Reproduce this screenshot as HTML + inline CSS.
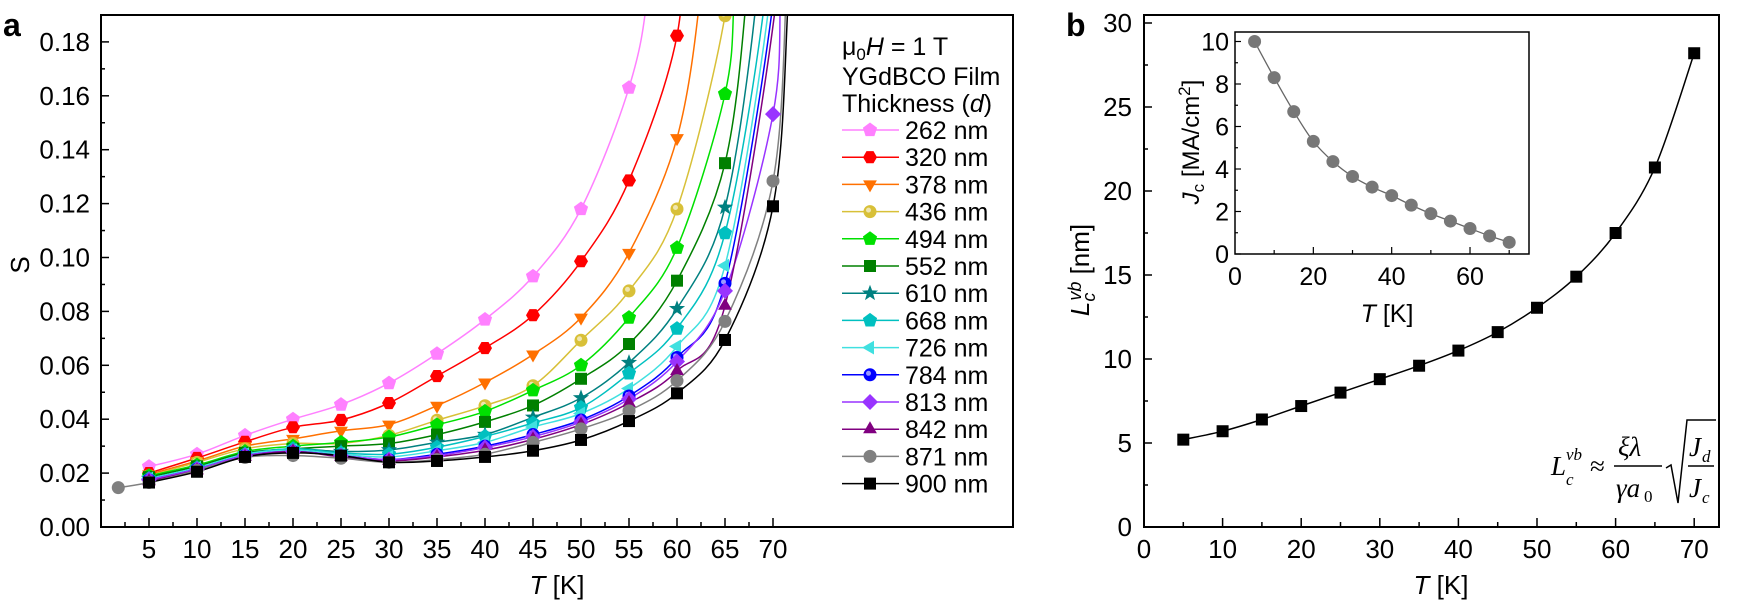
<!DOCTYPE html>
<html><head><meta charset="utf-8"><style>
html,body{margin:0;padding:0;background:#fff;}
svg{display:block;font-family:"Liberation Sans",Arial,sans-serif;}
</style></head><body>
<svg id="s" width="1738" height="603" xmlns="http://www.w3.org/2000/svg"></svg>
<script>
const S=document.getElementById('s');let h='';
function cr(pts){
 let d='M'+pts[0][0].toFixed(1)+','+pts[0][1].toFixed(1);
 for(let i=0;i<pts.length-1;i++){const p0=pts[i-1]||pts[i],p1=pts[i],p2=pts[i+1],p3=pts[i+2]||p2;
  const c1=[p1[0]+(p2[0]-p0[0])/6,p1[1]+(p2[1]-p0[1])/6],c2=[p2[0]-(p3[0]-p1[0])/6,p2[1]-(p3[1]-p1[1])/6];
  d+='C'+c1[0].toFixed(1)+','+c1[1].toFixed(1)+' '+c2[0].toFixed(1)+','+c2[1].toFixed(1)+' '+p2[0].toFixed(1)+','+p2[1].toFixed(1);}
 return d;}
function poly(n,r,x,y,rot){let p=[];for(let i=0;i<n;i++){const a=rot+i*2*Math.PI/n;p.push((x+r*Math.cos(a)).toFixed(1)+','+(y+r*Math.sin(a)).toFixed(1));}return p.join(' ');}
function mk(t,x,y,c){const r=7;
 switch(t){
 case 'pent':return `<polygon points="${poly(5,r+0.5,x,y,-Math.PI/2)}" fill="${c}"/>`;
 case 'hex':return `<polygon points="${poly(6,r,x,y,0)}" fill="${c}"/>`;
 case 'dtri':return `<polygon points="${poly(3,r+1,x,y,Math.PI/2)}" fill="${c}"/>`;
 case 'utri':return `<polygon points="${poly(3,r+1,x,y,-Math.PI/2)}" fill="${c}"/>`;
 case 'ltri':return `<polygon points="${poly(3,r+1,x,y,Math.PI)}" fill="${c}"/>`;
 case 'sq':return `<rect x="${x-6}" y="${y-6}" width="12" height="12" fill="${c}"/>`;
 case 'dia':return `<polygon points="${poly(4,r+1,x,y,0)}" fill="${c}"/>`;
 case 'circ':return `<circle cx="${x}" cy="${y}" r="${r-0.5}" fill="${c}"/>`;
 case 'sph':return `<circle cx="${x}" cy="${y}" r="${r-0.5}" fill="${c}"/><circle cx="${x-1.5}" cy="${y-1.5}" r="2.5" fill="#fff" opacity="0.6"/>`;
 case 'star':{let p=[];for(let i=0;i<10;i++){const a=-Math.PI/2+i*Math.PI/5,rr=i%2?3.5:8.5;p.push((x+rr*Math.cos(a)).toFixed(1)+','+(y+rr*Math.sin(a)).toFixed(1));}return `<polygon points="${p.join(' ')}" fill="${c}"/>`;}
 }}
const ax=T=>101+T*9.6, ay=v=>527-v/0.02*53.9;
const Ts=[5,10,15,20,25,30,35,40,45,50,55,60,65,70];
const ser=[
['262 nm','#ff80ff','pent',[.0224,.027,.034,.040,.0454,.0534,.0643,.077,.093,.118,.163],[[57,.2],[58,.26]]],
['320 nm','#ff0000','hex',[.020,.0256,.0316,.037,.0397,.046,.056,.0664,.0786,.0986,.1286,.1823],[[61,.24]]],
['378 nm','#ff7000','dtri',[.0195,.0245,.030,.0327,.0357,.038,.045,.0536,.064,.0777,.1017,.1443],[[62.5,.2],[63.5,.26]]],
['436 nm','#d8c038','sph',[.019,.024,.029,.031,.031,.034,.0396,.045,.0524,.0693,.0876,.118,.1897],[[66,.24]]],
['494 nm','#00e000','pent',[.019,.023,.028,.030,.0314,.0334,.0379,.0429,.0507,.06,.0777,.1036,.1607],[[66,.2],[66.8,.26]]],
['552 nm','#008000','sq',[.0185,.0225,.0275,.029,.030,.031,.0343,.039,.0451,.055,.0679,.0914,.135],[[67.3,.2],[68,.26]]],
['610 nm','#008080','star',[.018,.022,.027,.029,.028,.0286,.0314,.0343,.0407,.0479,.061,.081,.1186],[[68.4,.2],[69,.26]]],
['668 nm','#00c0c0','pent',[.018,.022,.027,.029,.0275,.027,.0296,.0336,.0386,.0443,.057,.0736,.109],[[69.3,.2],[69.9,.26]]],
['726 nm','#40e0e0','ltri',[.018,.022,.027,.0285,.027,.026,.0283,.0314,.0371,.0421,.0514,.067,.097],[[69.8,.2],[70.4,.26]]],
['784 nm','#0000ff','sph',[.0175,.0215,.0265,.028,.0265,.025,.027,.030,.0343,.0397,.0486,.0629,.0904],[[70.2,.2],[70.8,.26]]],
['813 nm','#9933ff','dia',[.0175,.0215,.0265,.028,.0265,.025,.0265,.0295,.0335,.039,.0475,.0614,.0876,.1532],[[70.8,.2],[71.3,.26]]],
['842 nm','#800080','utri',[.017,.021,.026,.028,.026,.0245,.026,.0285,.0325,.038,.046,.0579,.0821],[[70.5,.2],[71,.26]]],
['871 nm','#808080','circ',[.0165,.021,.0258,.0265,.0255,.024,.025,.027,.0314,.0364,.0431,.0543,.0763,.1284],[[71.4,.2],[71.8,.26]]],
['900 nm','#000000','sq',[.0165,.0205,.026,.0275,.0265,.024,.0245,.026,.0283,.0323,.0393,.0496,.0694,.119],[[71.5,.19],[71.9,.26]]]
];
h+=`<defs><clipPath id="ca"><rect x="101" y="15" width="912" height="512"/></clipPath></defs>`;
let lines='',marks='';
ser.forEach((s,i)=>{let pts=s[3].map((v,j)=>[ax(Ts[j]),ay(v)]);
 if(s[0]=='871 nm')pts.unshift([ax(1.8),ay(.0146)]);
 s[4].forEach(p=>pts.push([ax(p[0]),ay(p[1])]));
 lines+=`<path d="${cr(pts)}" fill="none" stroke="${s[1]}" stroke-width="1.5"/>`;
 let mp=s[3].map((v,j)=>[ax(Ts[j]),ay(v)]);if(s[0]=='871 nm')mp.unshift([ax(1.8),ay(.0146)]);
 mp.forEach(p=>{if(p[1]>15)marks+=mk(s[2],p[0],p[1],s[1]);});
 const ly=130+i*27.2;
 h+=`<line x1="842" y1="${ly}" x2="899" y2="${ly}" stroke="${s[1]}" stroke-width="1.5"/>`+mk(s[2],870,ly,s[1])+`<text x="905" y="${ly+9}" font-size="25">${s[0]}</text>`;
});
h+=`<g clip-path="url(#ca)">${lines}${marks}</g>`;
h+=`<rect x="101" y="15" width="912" height="512" fill="none" stroke="#000" stroke-width="2"/>`;
for(let v=0;v<=0.19;v+=0.01){const y=ay(v),maj=Math.round(v*100)%2==0;h+=`<line x1="101" y1="${y}" x2="${maj?109:105}" y2="${y}" stroke="#000" stroke-width="1.5"/>`;
 if(maj&&v<0.185)h+=`<text x="90" y="${y+9}" font-size="26" text-anchor="end">${v.toFixed(2)}</text>`;}
for(let T=2.5;T<=70;T+=2.5){const x=ax(T),maj=T%5==0;h+=`<line x1="${x}" y1="527" x2="${x}" y2="${maj?518:522}" stroke="#000" stroke-width="1.5"/>`;
 if(maj)h+=`<text x="${x}" y="558" font-size="26" text-anchor="middle">${T}</text>`;}
h+=`<text x="3" y="36" font-size="32" font-weight="bold">a</text>`;
h+=`<text transform="translate(29,265) rotate(-90)" font-size="26" text-anchor="middle">S</text>`;
h+=`<text x="557" y="594" font-size="26" text-anchor="middle"><tspan font-style="italic">T</tspan> [K]</text>`;
h+=`<text x="842" y="55" font-size="25">μ<tspan font-size="17" dy="5">0</tspan><tspan dy="-5" font-style="italic">H</tspan> = 1 T</text>`;
h+=`<text x="842" y="85" font-size="25">YGdBCO Film</text>`;
h+=`<text x="842" y="112" font-size="25">Thickness (<tspan font-style="italic">d</tspan>)</text>`;
const bx=T=>1144+T*7.86, by=v=>527-v/5*84;
const L=[5.2,5.7,6.4,7.2,8.0,8.8,9.6,10.5,11.6,13.05,14.9,17.5,21.4,28.2];
let bp=Ts.map((T,j)=>[bx(T),by(L[j])]);
h+=`<path d="${cr(bp)}" fill="none" stroke="#000" stroke-width="1.5"/>`;
bp.forEach(p=>h+=mk('sq',p[0],p[1],'#000'));
h+=`<rect x="1144" y="15" width="575" height="512" fill="none" stroke="#000" stroke-width="2"/>`;
for(let v=0;v<=30;v+=2.5){const y=by(v),maj=v%5==0;h+=`<line x1="1144" y1="${y}" x2="${maj?1152:1148}" y2="${y}" stroke="#000" stroke-width="1.5"/>`;
 if(maj)h+=`<text x="1132" y="${y+9}" font-size="26" text-anchor="end">${v}</text>`;}
for(let T=5;T<=70;T+=5){const x=bx(T),maj=T%10==0;h+=`<line x1="${x}" y1="527" x2="${x}" y2="${maj?518:522}" stroke="#000" stroke-width="1.5"/>`;}
for(let T=0;T<=70;T+=10)h+=`<text x="${bx(T)}" y="558" font-size="26" text-anchor="middle">${T}</text>`;
h+=`<text x="1066" y="36" font-size="32" font-weight="bold">b</text>`;
h+=`<text transform="translate(1089,270) rotate(-90)" font-size="26" text-anchor="middle"><tspan font-style="italic">L</tspan><tspan font-size="18" dy="6" font-style="italic">c</tspan><tspan font-size="18" dy="-14" dx="-8" font-style="italic">vb</tspan><tspan dy="8"> [nm]</tspan></text>`;
h+=`<text x="1441" y="594" font-size="26" text-anchor="middle"><tspan font-style="italic">T</tspan> [K]</text>`;
h+=`<g font-family="'Liberation Serif',serif" font-style="italic" font-size="27">
<text x="1551" y="475">L</text><text x="1566" y="485" font-size="17">c</text><text x="1566" y="460" font-size="17">vb</text>
<text x="1590" y="475" font-style="normal">≈</text>
<text x="1618" y="456">ξλ</text><line x1="1614" y1="466" x2="1662" y2="466" stroke="#000" stroke-width="1.5"/>
<text x="1616" y="497">γa</text><text x="1644" y="502" font-size="17" font-style="normal">0</text>
<polyline points="1666,468 1671,465 1678,503 1687,420 1716,420" fill="none" stroke="#000" stroke-width="1.5"/>
<text x="1689" y="456">J</text><text x="1702" y="462" font-size="17">d</text>
<line x1="1688" y1="466" x2="1714" y2="466" stroke="#000" stroke-width="1.5"/>
<text x="1689" y="497">J</text><text x="1702" y="503" font-size="17">c</text></g>`;
const ix=T=>1235+T*3.917, iy=v=>254-v*21.25;
const J=[10.0,8.3,6.7,5.3,4.35,3.65,3.15,2.75,2.3,1.9,1.55,1.2,0.85,0.55];
let ip=Ts.map((T,j)=>[ix(T),iy(J[j])]);
h+=`<path d="${cr(ip)}" fill="none" stroke="#666" stroke-width="1.3"/>`;
ip.forEach(p=>h+=`<circle cx="${p[0]}" cy="${p[1]}" r="6.5" fill="#777"/>`);
h+=`<rect x="1235" y="32" width="294" height="222" fill="none" stroke="#000" stroke-width="1.5"/>`;
for(let v=0;v<=10;v+=1){const y=iy(v),maj=v%2==0;h+=`<line x1="1235" y1="${y}" x2="${maj?1241:1238}" y2="${y}" stroke="#000" stroke-width="1.2"/>`;
 if(maj)h+=`<text x="1229" y="${y+9}" font-size="25" text-anchor="end">${v}</text>`;}
for(let T=10;T<=70;T+=10){const x=ix(T),maj=T%20==0;h+=`<line x1="${x}" y1="254" x2="${x}" y2="${maj?247:250}" stroke="#000" stroke-width="1.2"/>`;}
for(let T=0;T<=60;T+=20)h+=`<text x="${ix(T)}" y="285" font-size="25" text-anchor="middle">${T}</text>`;
h+=`<text x="1387" y="322" font-size="25" text-anchor="middle"><tspan font-style="italic">T</tspan> [K]</text>`;
h+=`<text transform="translate(1199,142) rotate(-90)" font-size="24" text-anchor="middle"><tspan font-style="italic">J</tspan><tspan font-size="17" dy="5">c</tspan><tspan dy="-5"> [MA/cm</tspan><tspan font-size="17" dy="-9">2</tspan><tspan dy="9">]</tspan></text>`;
S.innerHTML=h;
</script>
</body></html>
